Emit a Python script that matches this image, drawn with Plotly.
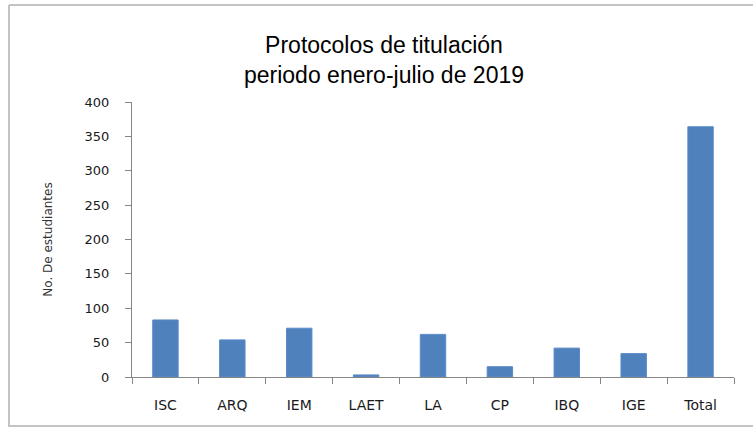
import plotly.graph_objects as go

categories = ["ISC", "ARQ", "IEM", "LAET", "LA", "CP", "IBQ", "IGE", "Total"]
values = [83, 54, 71, 3, 62, 15, 42, 34, 364]
y_ticks = [0, 50, 100, 150, 200, 250, 300, 350, 400]

W, H = 754, 428
L, R, T, B = 132, 20, 102, 51
pw, ph = W - L - R, H - T - B

def px_x(x):
    return (x - L) / pw

def px_y(y):
    return (H - B - y) / ph

border = dict(color="#c4c4c4", width=2)

fig = go.Figure(go.Bar(
    x=categories, y=values,
    marker=dict(color="#4f81bd", line=dict(color="#5a8ac6", width=1)),
    width=0.38,
))

fig.update_layout(
    width=W, height=H,
    margin=dict(l=L, r=R, t=T, b=B),
    paper_bgcolor="white", plot_bgcolor="white",
    showlegend=False,
    title=dict(
        text="Protocolos de titulación<br>periodo enero-julio de 2019",
        font=dict(family="Liberation Sans, Arial", size=23, color="#000000"),
        x=384 / W, xanchor="center", xref="container",
        y=1 - 53 / H, yanchor="middle", yref="container",
    ),
    shapes=[
        dict(type="line", xref="paper", yref="paper",
             x0=px_x(9), x1=px_x(9), y0=px_y(427), y1=px_y(5), line=border),
        dict(type="line", xref="paper", yref="paper",
             x0=px_x(9), x1=px_x(753), y0=px_y(5), y1=px_y(5), line=border),
        dict(type="line", xref="paper", yref="paper",
             x0=px_x(9), x1=px_x(753), y0=px_y(426), y1=px_y(426), line=border),
    ],
)

fig.update_xaxes(
    type="category",
    showline=True, linecolor="#868686", linewidth=1,
    ticks="outside", tickson="boundaries", ticklen=6, tickcolor="#868686",
    tickfont=dict(family="DejaVu Sans", size=14, color="#1a1a1a"),
    ticklabelstandoff=15,
    showgrid=False,
)

fig.update_yaxes(
    range=[0, 400], tickvals=y_ticks,
    showline=True, linecolor="#868686", linewidth=1,
    ticks="outside", ticklen=6, tickcolor="#868686",
    tickfont=dict(family="DejaVu Sans", size=13, color="#1a1a1a"),
    ticklabelstandoff=13,
    showgrid=False, zeroline=False,
    title=dict(text="No. De estudiantes",
               font=dict(family="DejaVu Sans", size=12, color="#333333"),
               standoff=29),
)

fig.write_html(
    "out.html", config={"displayModeBar": False},
    post_script=("document.body.style.margin='0';"
                 "document.body.style.overflow='hidden';"
                 "document.documentElement.style.overflow='hidden';"),
)
